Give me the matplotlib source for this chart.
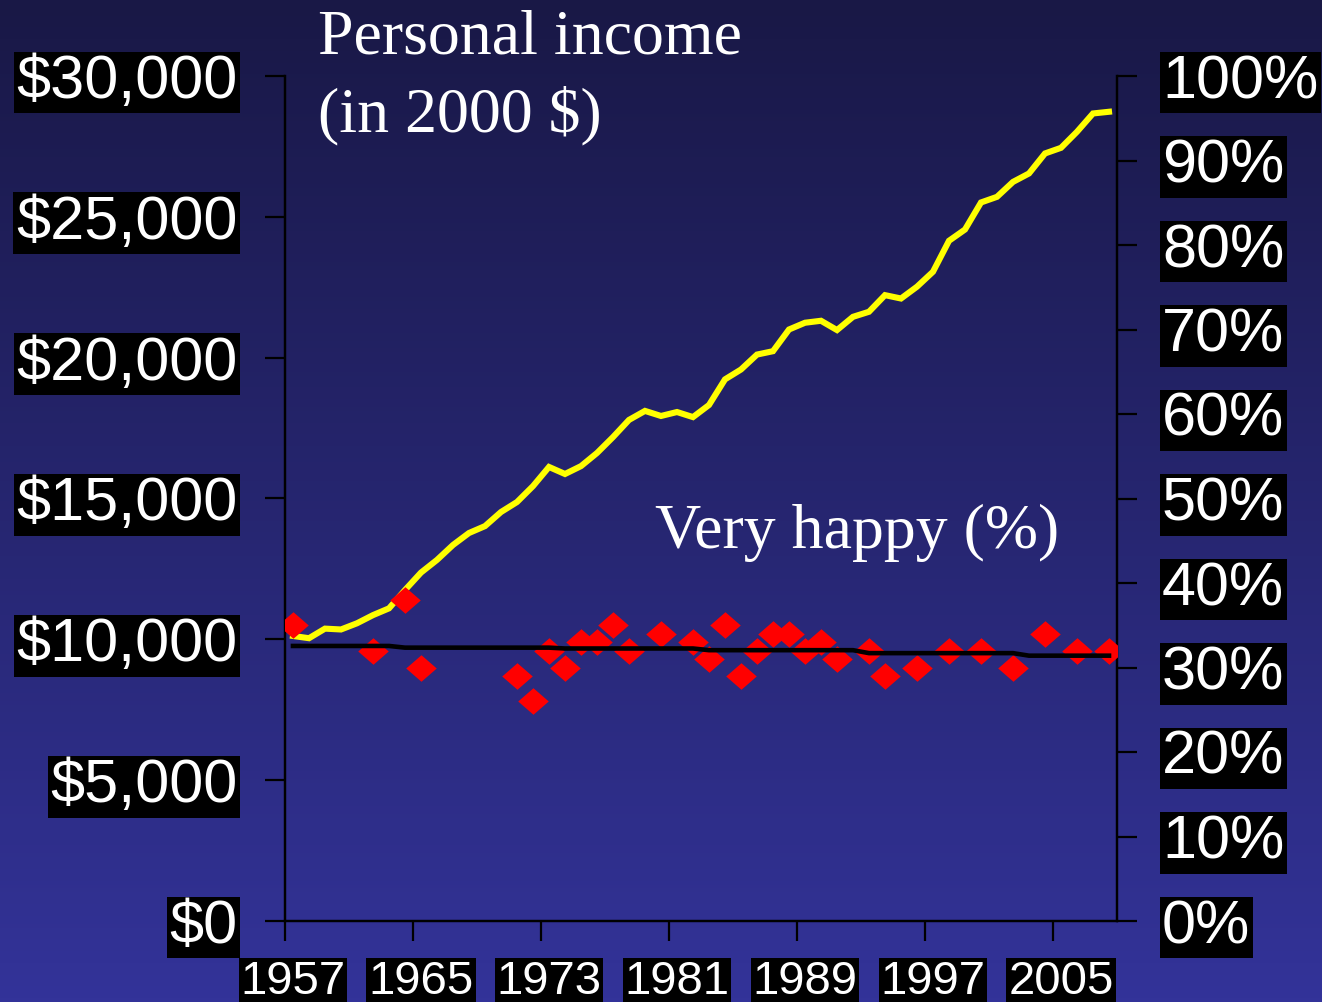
import numpy as np
import matplotlib
matplotlib.use("Agg")
import matplotlib.pyplot as plt
from matplotlib.path import Path

# ---------------- data ----------------
income_years = list(range(1957, 2009))
income = [10120, 10040, 10380, 10350, 10570, 10860, 11100, 11750, 12370, 12820,
          13350, 13775, 14020, 14520, 14875, 15440, 16120, 15870, 16150, 16615,
          17180, 17790, 18110, 17930, 18070, 17890, 18320, 19230, 19580, 20110,
          20230, 21000, 21240, 21310, 20980, 21450, 21630, 22220, 22100, 22520,
          23050, 24150, 24550, 25510, 25710, 26240, 26540, 27250, 27450, 28020,
          28670, 28730]

happy_years = [1957, 1962, 1964, 1965, 1971, 1972, 1973, 1974, 1975, 1976, 1977,
               1978, 1980, 1982, 1983, 1984, 1985, 1986, 1987, 1988, 1989, 1990,
               1991, 1993, 1994, 1996, 1998, 2000, 2002, 2004, 2006, 2008]
happy = [35, 32, 38, 30, 29, 26, 32, 30, 33, 33, 35,
         32, 34, 33, 31, 35, 29, 32, 34, 34, 32, 33,
         31, 32, 29, 30, 32, 32, 30, 34, 32, 32]

trend_years = [1957, 1963, 1964, 1973, 1974, 1982, 1983, 1992, 1993, 2002, 2003, 2008]
trend = [32.55, 32.55, 32.35, 32.35, 32.25, 32.25, 32.05, 32.05, 31.7, 31.7, 31.4, 31.4]

label_years = [1957, 1965, 1973, 1981, 1989, 1997, 2005]
left_ticks = [0, 5000, 10000, 15000, 20000, 25000, 30000]
left_labels = ["$0", "$5,000", "$10,000", "$15,000", "$20,000", "$25,000", "$30,000"]
right_ticks = [0, 10, 20, 30, 40, 50, 60, 70, 80, 90, 100]
right_labels = [f"{v}%" for v in right_ticks]

# ---------------- figure ----------------
W, H = 1322, 1002
fig = plt.figure(figsize=(W / 100, H / 100), dpi=100)

# gradient background
bg = fig.add_axes([0, 0, 1, 1], zorder=-10)
top = np.array([25, 24, 70]) / 255.0
bot = np.array([51, 51, 153]) / 255.0
t = np.linspace(0, 1, 256)[:, None]
grad = top[None, :] * (1 - t) + bot[None, :] * t
bg.imshow(grad[:, None, :], aspect="auto", extent=[0, 1, 0, 1])
bg.axis("off")

L, R, T, B = 285, 1117, 76, 921
ax = fig.add_axes([L / W, 1 - B / H, (R - L) / W, (B - T) / H])
ax.patch.set_alpha(0)
ax2 = ax.twinx()
ax2.patch.set_alpha(0)

ax.set_xlim(1956.5, 2008.5)
ax.set_ylim(0, 30000)
ax2.set_ylim(0, 100)

# yellow income line
ax.plot(income_years, income, color="#ffff00", lw=4.4, zorder=2, solid_joinstyle="miter")

# diamonds and trend on right axis
diamond = Path([(-1.15, 0), (0, 1), (1.15, 0), (0, -1), (-1.15, 0)],
               [Path.MOVETO, Path.LINETO, Path.LINETO, Path.LINETO, Path.CLOSEPOLY])
ax2.plot(happy_years, happy, linestyle="none", marker=diamond, ms=22,
         color="#ff0000", mec="none", zorder=3)
ax2.plot(trend_years, trend, color="black", lw=3.3, zorder=4)

# spines
for a in (ax, ax2):
    a.spines["top"].set_visible(False)
    for s in ("left", "right", "bottom"):
        a.spines[s].set_color("black")
        a.spines[s].set_linewidth(1.6)

sans = ["Liberation Sans", "DejaVu Sans"]
serif = ["Liberation Serif", "DejaVu Serif"]

# x ticks: marks at category boundaries, labels at category centres
ax.set_xticks([y - 0.5 for y in label_years])
ax.set_xticklabels([])
ax.set_xticks(label_years, minor=True)
ax.set_xticklabels([str(y) for y in label_years], minor=True)
ax.tick_params(axis="x", which="major", direction="out", length=14.4, width=1.6, color="black")
ax.tick_params(axis="x", which="minor", length=0, pad=28, labelsize=34, labelcolor="white")

ax.set_yticks(left_ticks)
ax.set_yticklabels(left_labels)
ax.tick_params(axis="y", direction="out", length=14.4, width=1.6, color="black",
               pad=20, labelsize=44, labelcolor="white")

ax2.set_yticks(right_ticks)
ax2.set_yticklabels(right_labels)
ax2.tick_params(axis="y", direction="out", length=14.4, width=1.6, color="black",
                pad=18, labelsize=44, labelcolor="white")

for lab in ax.get_yticklabels() + ax2.get_yticklabels() + ax.get_xticklabels(minor=True):
    lab.set_family(sans)
    lab.set_bbox(dict(facecolor="black", edgecolor="none", boxstyle="square,pad=0.04"))

# annotations
fig.text(318 / W, 1 - 54 / H, "Personal income", family=serif, fontsize=46,
         color="white", va="baseline", ha="left")
fig.text(318 / W, 1 - 131 / H, "(in 2000 $)", family=serif, fontsize=46,
         color="white", va="baseline", ha="left")
fig.text(655 / W, 1 - 548 / H, "Very happy (%)", family=serif, fontsize=46,
         color="white", va="baseline", ha="left")

fig.savefig("out.png", dpi=100)
